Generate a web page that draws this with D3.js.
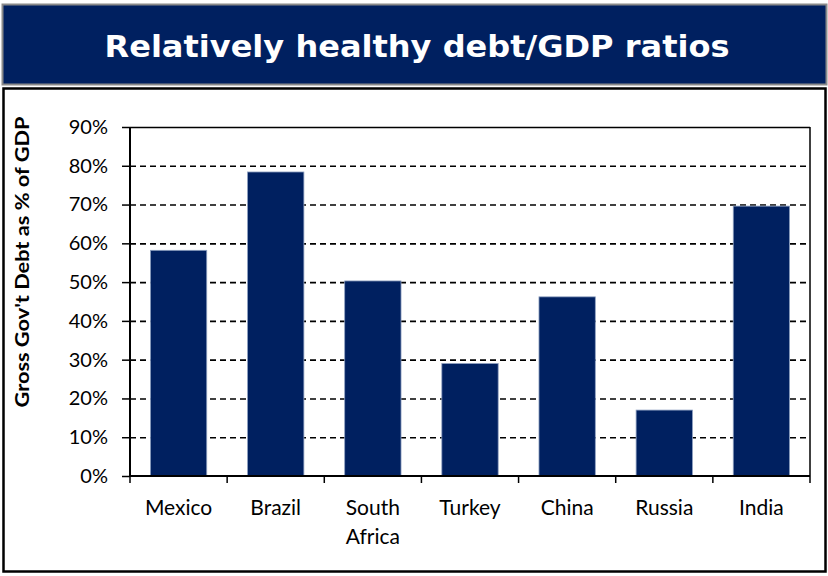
<!DOCTYPE html>
<html><head><meta charset="utf-8">
<script src="https://cdn.jsdelivr.net/npm/d3@7"></script>
<style>body{margin:0;background:#fff}svg{display:block}</style>
</head><body><svg id="c" width="828" height="576"></svg>
<script>
const categories = ["Mexico","Brazil","South Africa","Turkey","China","Russia","India"];
const values = [0.582, 0.784, 0.503, 0.29, 0.462, 0.17, 0.696];
const yTicks = [0,0.1,0.2,0.3,0.4,0.5,0.6,0.7,0.8,0.9];
const title = "Relatively healthy debt/GDP ratios";
const yLabel = "Gross Gov't Debt as % of GDP";

(function(){
const svg = d3.select("#c");
const navy = "#002060";
// banner
svg.append("rect").attr("x",2.5).attr("y",4.5).attr("width",824).attr("height",80).attr("fill",navy).attr("stroke","#8a8a8a").attr("stroke-width",2);
svg.append("text").attr("x",417).attr("y",57).attr("text-anchor","middle").attr("fill","#fff")
  .attr("font-family","DejaVu Sans").attr("font-weight","bold").attr("font-size",30)
  .attr("textLength",625).attr("lengthAdjust","spacingAndGlyphs").text(title);
// box
svg.append("rect").attr("x",3.5).attr("y",88.5).attr("width",822).attr("height",483).attr("fill","#fff").attr("stroke","#000").attr("stroke-width",2.5);

const pL=130, pR=810, pT=127, pB=476;
const x = d3.scaleBand().domain(categories).range([pL,pR]).paddingInner(0.42).paddingOuter(0.21);
const xb = d3.scaleBand().domain(categories).range([pL,pR]);
const y = d3.scaleLinear().domain([0,0.9]).range([pB,pT]);

// gridlines
svg.append("g").selectAll("line").data(yTicks.filter(t=>t>0 && t<0.9)).join("line")
  .attr("x1",pL).attr("x2",pR).attr("y1",d=>y(d)+0.5).attr("y2",d=>y(d)+0.5)
  .attr("stroke","#000").attr("stroke-width",1.6).attr("stroke-dasharray","6,4");
svg.append("line").attr("x1",pL).attr("x2",pR).attr("y1",pT+0.5).attr("y2",pT+0.5).attr("stroke","#000").attr("stroke-width",1.5);
svg.append("line").attr("x1",pR).attr("x2",pR).attr("y1",pT).attr("y2",pB).attr("stroke","#000").attr("stroke-width",1.5);

// bars
svg.append("g").selectAll("rect").data(values).join("rect")
  .attr("x",(d,i)=>x(categories[i])).attr("width",x.bandwidth())
  .attr("y",d=>y(d)).attr("height",d=>pB-y(d))
  .attr("fill",navy).attr("stroke","#8ea0c0").attr("stroke-width",0.8);

// y axis
const yAxis = d3.axisLeft(y).tickValues(yTicks).tickFormat(d3.format(".0%")).tickSize(8).tickPadding(14);
const gy = svg.append("g").attr("transform",`translate(${pL},0)`).call(yAxis);
gy.select(".domain").attr("stroke","#000").attr("stroke-width",2).attr("d",`M0,${pT}V${pB}`);
gy.selectAll(".tick line").attr("stroke","#000").attr("stroke-width",1.5);
gy.selectAll("text").attr("font-family","Lato").attr("font-size",20).attr("fill","#000");

// x axis
svg.append("line").attr("x1",pL-1).attr("x2",pR).attr("y1",pB).attr("y2",pB).attr("stroke","#000").attr("stroke-width",2);
const bounds = categories.map(c=>xb(c)).concat([pR]);
svg.append("g").selectAll("line").data(bounds).join("line")
  .attr("x1",d=>d).attr("x2",d=>d).attr("y1",pB).attr("y2",pB+7).attr("stroke","#000").attr("stroke-width",1.5);
const xl = svg.append("g").selectAll("text").data(categories).join("text")
  .attr("x",d=>xb(d)+xb.bandwidth()/2).attr("y",515).attr("text-anchor","middle")
  .attr("font-family","Lato").attr("font-size",21).attr("fill","#000");
xl.each(function(d){
  const words=d.split(" ");
  const t=d3.select(this);
  words.forEach((w,i)=>t.append("tspan").attr("x",xb(d)+xb.bandwidth()/2).attr("dy",i?29:0).text(w));
});

// y label
svg.append("text").attr("transform","translate(29,262) rotate(-90)").attr("text-anchor","middle")
  .attr("font-family","Lato").attr("font-weight","bold").attr("font-size",19)
  .attr("textLength",291).attr("lengthAdjust","spacingAndGlyphs").text(yLabel);
})();
</script></body></html>
